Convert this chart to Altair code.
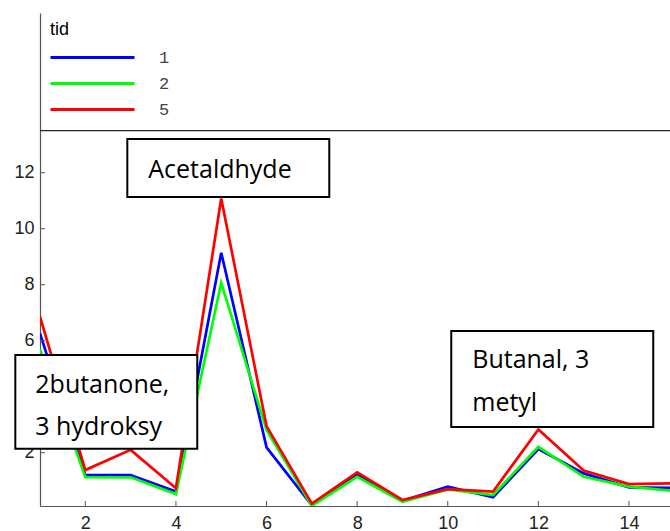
import altair as alt
import pandas as pd

# Measurement index along the horizontal axis
x_vals = list(range(1, 16))

# Series values, one list per "tid"
tid_1 = [6.26, 1.20, 1.20, 0.61, 9.14, 2.19, 0.12, 1.23, 0.28, 0.79, 0.41, 2.13, 1.26, 0.76, 0.74]
tid_2 = [5.70, 1.13, 1.12, 0.52, 8.07, 2.81, 0.10, 1.14, 0.25, 0.69, 0.49, 2.21, 1.14, 0.79, 0.63]
tid_5 = [6.86, 1.38, 2.10, 0.73, 11.08, 2.95, 0.18, 1.30, 0.31, 0.70, 0.61, 2.83, 1.36, 0.88, 0.91]

series_names = ["1", "2", "5"]
series_colors = ["#0000ff", "#00ff00", "#ff0000"]

x_ticks = [2, 4, 6, 8, 10, 12, 14]
y_ticks = [2, 4, 6, 8, 10, 12]

# Top edge of the axes box; the legend sits above it
axes_top = 13.5

# Annotation boxes (data coordinates) and their text lines
box_labels = ["Acetaldhyde", "2butanone, 3 hydroksy", "Butanal, 3 metyl"]
box_x0 = [2.927, 0.455, 10.077]
box_x1 = [7.385, 4.471, 14.535]
box_y0 = [11.13, 2.14, 2.92]
box_y1 = [13.20, 5.49, 6.35]

note_text = ["Acetaldhyde", "2butanone,", "3 hydroksy", "Butanal, 3", "metyl"]
note_x = [3.39, 0.896, 0.896, 10.54, 10.54]
note_y = [11.82, 4.12, 2.63, 5.01, 3.49]

rows = []
for name, vals in zip(series_names, [tid_1, tid_2, tid_5]):
    for xv, yv in zip(x_vals, vals):
        rows.append({"x": xv, "value": yv, "tid": name})
lines_df = pd.DataFrame(rows)

boxes_df = pd.DataFrame({"label": box_labels, "x0": box_x0, "x1": box_x1,
                         "y0": box_y0, "y1": box_y1})
notes_df = pd.DataFrame({"text": note_text, "x": note_x, "y": note_y})
xt_df = pd.DataFrame({"t": x_ticks})
yt_df = pd.DataFrame({"t": y_ticks})
top_df = pd.DataFrame({"y": [axes_top]})

W, H = 630, 493
xs = alt.Scale(domain=[1, 14.905], nice=False, zero=False)
ys = alt.Scale(domain=[0.096, 17.704], nice=False, zero=False)

x_axis = alt.Axis(values=x_ticks, title=None, grid=False, ticks=False, tickSize=0,
                  domainColor="#555555", domainWidth=1.2, labelPadding=8,
                  labelFont="Liberation Sans", labelFontSize=18, labelColor="#222222")
y_axis = alt.Axis(values=y_ticks, title=None, grid=False, ticks=False, tickSize=0,
                  domainColor="#555555", domainWidth=1.2, labelPadding=6,
                  labelFont="Liberation Sans", labelFontSize=18, labelColor="#222222")

lines = alt.Chart(lines_df).mark_line(strokeWidth=2.7, clip=True).encode(
    x=alt.X("x:Q", scale=xs, axis=x_axis),
    y=alt.Y("value:Q", scale=ys, axis=y_axis),
    color=alt.Color("tid:N", scale=alt.Scale(domain=series_names, range=series_colors),
                    legend=alt.Legend(
                        orient="none", legendX=10, legendY=8, padding=0,
                        title="tid", titleFont="Liberation Sans", titleFontSize=18,
                        titleFontWeight="normal", titleColor="#000000", titlePadding=10,
                        symbolType="M-8.4,0H8.4", symbolSize=100, symbolStrokeWidth=3,
                        symbolOffset=34,
                        labelFont="Liberation Mono", labelFontSize=17,
                        labelColor="#444444", labelOffset=58, rowPadding=8)),
    order=alt.Order("tid:N"),
)

boxes = alt.Chart(boxes_df).mark_rect(
    fill="white", stroke="black", strokeWidth=2, clip=False
).encode(
    x=alt.X("x0:Q", scale=xs, axis=x_axis), x2="x1:Q",
    y=alt.Y("y0:Q", scale=ys, axis=y_axis), y2="y1:Q",
)

notes = alt.Chart(notes_df).mark_text(
    align="left", baseline="alphabetic", font="Open Sans", fontSize=25,
    color="black", clip=False
).encode(
    x=alt.X("x:Q", scale=xs, axis=x_axis),
    y=alt.Y("y:Q", scale=ys, axis=y_axis),
    text="text:N",
)

top_line = alt.Chart(top_df).mark_rule(color="#222222", strokeWidth=1.3).encode(
    y=alt.Y("y:Q", scale=ys, axis=y_axis)
)

y_tick_marks = alt.Chart(yt_df).mark_rule(color="#555555", strokeWidth=1).encode(
    y=alt.Y("t:Q", scale=ys, axis=y_axis), x=alt.value(0), x2=alt.value(5)
)
x_tick_marks = alt.Chart(xt_df).mark_rule(color="#555555", strokeWidth=1).encode(
    x=alt.X("t:Q", scale=xs, axis=x_axis), y=alt.value(H), y2=alt.value(H - 5)
)

chart = alt.layer(lines, y_tick_marks, x_tick_marks, top_line, boxes, notes).properties(
    width=W, height=H,
    padding={"left": 40, "top": 13, "right": 0, "bottom": 25},
    autosize=alt.AutoSizeParams(type="none"),
    background="white",
).configure_view(stroke=None)

chart.save("out.html", embed_options={"renderer": "svg", "actions": False})
